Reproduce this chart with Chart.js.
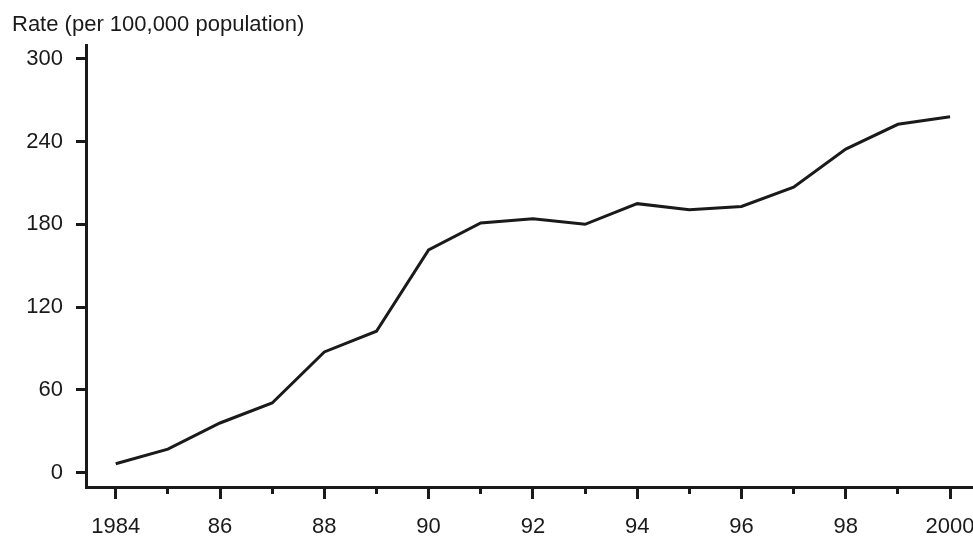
<!DOCTYPE html>
<html>
<head>
<meta charset="utf-8">
<script src="https://cdn.jsdelivr.net/npm/chart.js@4.4.1/dist/chart.umd.min.js"></script>
<style>
  html, body { margin: 0; padding: 0; background: #fff; }
  canvas { display: block; }
</style>
</head>
<body>
<canvas id="rateChart" width="973" height="540"></canvas>
<script>
const years = [1984, 1985, 1986, 1987, 1988, 1989, 1990, 1991, 1992, 1993, 1994, 1995, 1996, 1997, 1998, 1999, 2000];
const rates = [6.5, 17, 36, 50.5, 87.5, 102.5, 161.5, 181, 184, 180, 195, 190.5, 193, 207, 234.5, 252.5, 258];
const xTickYears = [1984, 1986, 1988, 1990, 1992, 1994, 1996, 1998, 2000];
const xTickLabels = ['1984', '86', '88', '90', '92', '94', '96', '98', '2000'];
const minorTickYears = [1985, 1987, 1989, 1991, 1993, 1995, 1997, 1999];
const yTicks = [0, 60, 120, 180, 240, 300];

const FONT = "'Liberation Sans', Arial, sans-serif";
const INK = '#1a1a1a';

window.onload = function () {
    const ctx = document.getElementById('rateChart');

    new Chart(ctx, {
        type: 'line',
        data: {
            datasets: [{
                label: 'Rate',
                data: years.map((y, i) => ({ x: y, y: rates[i] })),
                borderColor: INK,
                borderWidth: 3,
                pointRadius: 0,
                tension: 0,
                fill: false
            }]
        },
        options: {
            responsive: false,
            animation: false,
            devicePixelRatio: 1,
            layout: { padding: { left: 12, right: 0, top: 0, bottom: 0 } },
            plugins: {
                legend: { display: false },
                tooltip: { enabled: false },
                title: {
                    display: true,
                    text: 'Rate (per 100,000 population)',
                    align: 'start',
                    color: INK,
                    font: { family: FONT, size: 22, weight: 'normal' },
                    padding: { top: 12, bottom: 6.6 }
                }
            },
            scales: {
                x: {
                    type: 'linear',
                    position: 'bottom',
                    weight: 1,
                    min: 1983.43,
                    max: 2000.44,
                    afterBuildTicks: (scale) => { scale.ticks = xTickYears.map(v => ({ value: v })); },
                    afterFit: (scale) => {
                        scale.height = 53;
                        scale.paddingLeft = 0;
                        scale.paddingRight = 0;
                    },
                    ticks: {
                        color: INK,
                        padding: 15,
                        maxRotation: 0,
                        autoSkip: false,
                        font: { family: FONT, size: 22 },
                        callback: (v) => xTickLabels[xTickYears.indexOf(v)]
                    },
                    grid: {
                        drawOnChartArea: false,
                        drawTicks: true,
                        tickLength: 12,
                        tickWidth: 3,
                        tickColor: INK
                    },
                    border: { display: true, color: INK, width: 3 }
                },
                xMinor: {
                    type: 'linear',
                    position: 'bottom',
                    weight: 0,
                    min: 1983.43,
                    max: 2000.44,
                    afterBuildTicks: (scale) => { scale.ticks = minorTickYears.map(v => ({ value: v })); },
                    afterFit: (scale) => {
                        scale.height = 0;
                        scale.paddingLeft = 0;
                        scale.paddingRight = 0;
                    },
                    ticks: { display: false },
                    grid: {
                        drawOnChartArea: false,
                        drawTicks: true,
                        tickLength: 7,
                        tickWidth: 3,
                        tickColor: INK
                    },
                    border: { display: false }
                },
                y: {
                    type: 'linear',
                    min: -10.4,
                    max: 310,
                    afterBuildTicks: (scale) => { scale.ticks = yTicks.map(v => ({ value: v })); },
                    afterFit: (scale) => {
                        scale.width = 74;
                        scale.paddingTop = 0;
                        scale.paddingBottom = 0;
                    },
                    ticks: {
                        color: INK,
                        padding: 13,
                        font: { family: FONT, size: 22 },
                        callback: (v) => String(v)
                    },
                    grid: {
                        drawOnChartArea: false,
                        drawTicks: true,
                        tickLength: 10,
                        tickWidth: 3,
                        tickColor: INK
                    },
                    border: { display: true, color: INK, width: 3 }
                }
            }
        }
    });
};
</script>
</body>
</html>
